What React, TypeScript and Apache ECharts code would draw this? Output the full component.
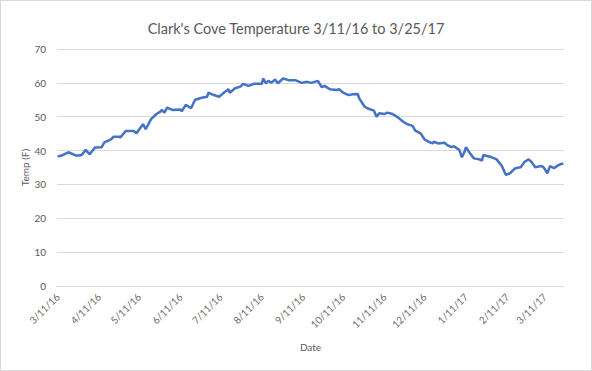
import React, { useEffect, useRef } from "react";
import * as echarts from "echarts";

// Day offsets from 3/11/16 of the sampled readings
const dayOffsets = [
  0, 4, 8, 14, 18, 21, 24, 28, 33, 35, 40, 42, 46, 47, 51, 57, 59, 64, 66, 70,
  74, 77, 78, 80, 82, 86, 92, 93, 96, 100, 103, 108, 112, 113, 117, 121, 124, 128, 129, 133,
  137, 139, 143, 147, 153, 154, 156, 158, 160, 163, 165, 169, 173, 178, 183, 187, 190, 195, 198, 200,
  204, 209, 211, 214, 218, 221, 225, 226, 230, 232, 237, 239, 241, 245, 247, 251, 255, 259, 262, 266,
  268, 272, 275, 278, 281, 282, 285, 290, 292, 295, 297, 301, 303, 305, 306, 309, 312, 316, 318, 319,
  324, 329, 333, 336, 339, 343, 347, 350, 353, 355, 358, 362, 364, 367, 369, 372, 374, 377, 379,
];

// Temperature (F)
const temps = [
  38.2, 38.7, 39.5, 38.5, 38.7, 40.2, 38.9, 40.9, 41.0, 42.4, 43.3, 44.1, 44.1, 43.9, 45.8, 45.8, 45.1, 47.8, 46.3, 49.3,
  50.8, 51.5, 52.0, 51.2, 52.7, 52.0, 52.1, 51.6, 53.5, 52.5, 55.0, 55.6, 55.9, 57.1, 56.4, 55.9, 56.9, 58.1, 57.1, 58.4,
  58.9, 59.7, 59.1, 59.7, 59.7, 61.3, 59.9, 60.6, 60.0, 61.0, 59.9, 61.3, 60.8, 60.8, 60.0, 60.3, 60.0, 60.6, 58.7, 59.1,
  58.1, 57.9, 58.1, 57.1, 56.4, 56.6, 56.7, 55.4, 53.0, 52.5, 51.8, 50.0, 51.0, 50.8, 51.2, 50.8, 49.8, 48.5, 47.8, 47.3,
  45.9, 45.1, 43.3, 42.6, 42.1, 42.6, 42.1, 42.3, 41.6, 41.0, 41.3, 40.2, 38.0, 39.7, 41.0, 39.2, 37.7, 37.4, 37.0, 38.7,
  38.2, 37.4, 35.4, 32.8, 33.3, 34.8, 35.1, 36.7, 37.4, 36.7, 35.1, 35.4, 35.2, 33.3, 35.4, 34.8, 35.4, 36.0, 36.1,
];

const startDate = { y: 2016, m: 2, d: 11 };
const dayCount = 380;

const yTicks = { min: 0, max: 70, step: 10 };

const title = "Clark's Cove Temperature 3/11/16 to 3/25/17";

export default function App() {
  const ref = useRef<HTMLDivElement>(null);

  useEffect(() => {
    if (!ref.current) return;
    const categories: string[] = [];
    const dayOfMonth: number[] = [];
    for (let i = 0; i < dayCount; i++) {
      const dt = new Date(Date.UTC(startDate.y, startDate.m, startDate.d + i));
      categories.push(
        `${dt.getUTCMonth() + 1}/${dt.getUTCDate()}/${String(dt.getUTCFullYear()).slice(2)}`
      );
      dayOfMonth.push(dt.getUTCDate());
    }
    const data = dayOffsets.map((d, i) => [d, temps[i]]);

    const chart = echarts.init(ref.current, null, { renderer: "svg" });
    const font = "Lato, 'Open Sans', sans-serif";
    chart.setOption({
      animation: false,
      title: {
        text: title,
        left: "center",
        top: 15,
        textStyle: { fontFamily: font, fontSize: 14.5, fontWeight: "normal", color: "#595959" },
      },
      grid: { left: 56, right: 27, top: 48, bottom: 84 },
      xAxis: {
        type: "category",
        data: categories,
        boundaryGap: true,
        name: "Date",
        nameLocation: "middle",
        nameGap: 56,
        nameMoveOverlap: false,
        nameTextStyle: { fontFamily: font, fontSize: 10, color: "#595959" },
        axisLine: { lineStyle: { color: "#d9d9d9", width: 1 } },
        axisTick: { show: false },
        axisLabel: {
          interval: (idx: number) => dayOfMonth[idx] === 11,
          rotate: 45,
          margin: 9,
          fontFamily: font,
          fontSize: 10,
          color: "#6b6b6b",
        },
        splitLine: { show: false },
      },
      yAxis: {
        type: "value",
        min: yTicks.min,
        max: yTicks.max,
        interval: yTicks.step,
        name: "Temp (F)",
        nameLocation: "middle",
        nameGap: 27,
        nameMoveOverlap: false,
        nameTextStyle: { fontFamily: font, fontSize: 10, color: "#595959" },
        axisLine: { show: false },
        axisTick: { show: false },
        axisLabel: { margin: 11, fontFamily: font, fontSize: 10, color: "#595959" },
        splitLine: { lineStyle: { color: "#d9d9d9", width: 1 } },
      },
      series: [
        {
          type: "line",
          data,
          showSymbol: false,
          symbol: "none",
          lineStyle: { color: "#4472C4", width: 2.5 },
        },
      ],
    });
    return () => chart.dispose();
  }, []);

  return (
    <div
      ref={ref}
      style={{
        position: "fixed",
        left: 0,
        top: 0,
        width: 592,
        height: 371,
        boxSizing: "border-box",
        border: "1px solid #d9d9d9",
        background: "#fff",
      }}
    />
  );
}
